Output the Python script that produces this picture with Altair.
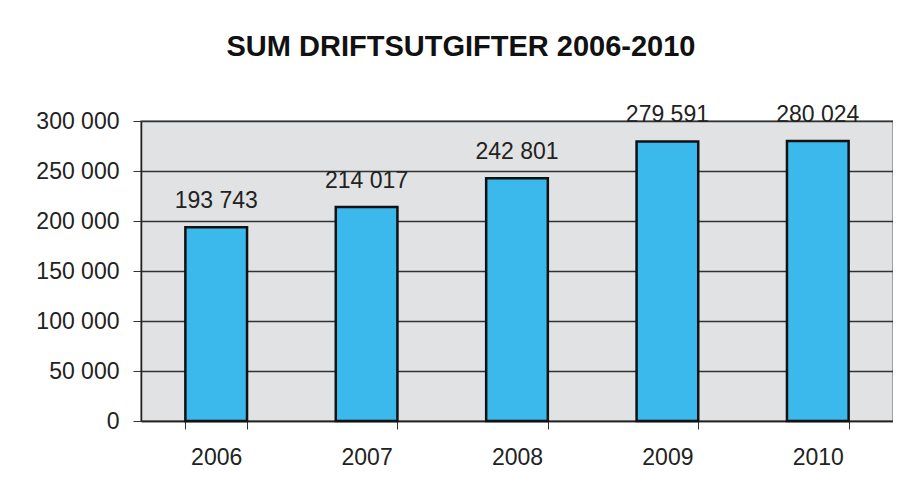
import altair as alt
import pandas as pd

years = ["2006", "2007", "2008", "2009", "2010"]
values = [193743, 214017, 242801, 279591, 280024]
labels = ["193 743", "214 017", "242 801", "279 591", "280 024"]

df = pd.DataFrame({"year": years, "value": values, "label": labels})

FONT = "Liberation Sans"

base = alt.Chart(df).encode(
    x=alt.X(
        "year:N",
        title=None,
        scale=alt.Scale(paddingInner=0.59, paddingOuter=0.295),
        axis=alt.Axis(
            labelAngle=0,
            labelFont=FONT,
            labelFontSize=23,
            labelColor="#222222",
            labelPadding=17,
            tickBand="extent",
            tickSize=8,
            tickColor="#333333",
            domainColor="#222222",
            domainWidth=1.5,
            grid=False,
        ),
    ),
    y=alt.Y(
        "value:Q",
        title=None,
        scale=alt.Scale(domain=[0, 300000], nice=False),
        axis=alt.Axis(
            values=[0, 50000, 100000, 150000, 200000, 250000, 300000],
            labelExpr="replace(format(datum.value, ','), ',', ' ')",
            labelFont=FONT,
            labelFontSize=23,
            labelColor="#222222",
            labelPadding=14,
            tickSize=8,
            tickColor="#333333",
            domainColor="#222222",
            domainWidth=1.5,
            grid=True,
            gridColor="#333333",
            gridWidth=1.5,
        ),
    ),
)

bars = base.mark_bar(color="#3BB9EC", stroke="#111111", strokeWidth=2.5)

text = base.mark_text(
    font=FONT, fontSize=23, color="#222222", baseline="alphabetic", dy=-19
).encode(text="label:N")

chart = (
    alt.layer(bars, text)
    .properties(
        width=752,
        height=300,
        autosize=alt.AutoSizeParams(type="none"),
        padding={"left": 133, "top": 113, "right": 0, "bottom": 60},
        title=alt.TitleParams(
            "SUM DRIFTSUTGIFTER 2006-2010",
            font=FONT,
            fontSize=29,
            fontWeight="bold",
            color="#111111",
            anchor="middle",
            dx=-56,
            offset=42,
        ),
    )
    .configure(background="white")
    .configure_view(fill="#E1E2E3", stroke="#888888", strokeWidth=1.5)
)

chart.save("out.html", embed_options={"renderer": "svg", "actions": False})
